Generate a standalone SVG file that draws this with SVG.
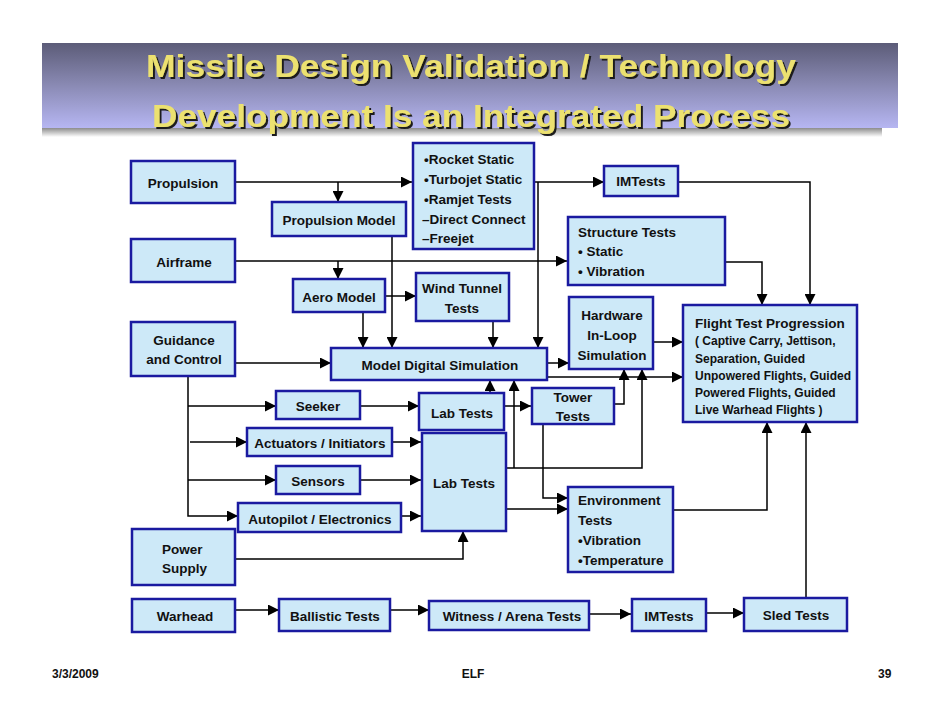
<svg xmlns="http://www.w3.org/2000/svg" width="942" height="728" viewBox="0 0 942 728">
<defs>
<linearGradient id="ban" x1="0" y1="0" x2="0" y2="1">
<stop offset="0" stop-color="#5c5c78"/>
<stop offset="0.5" stop-color="#8a8ab4"/>
<stop offset="1" stop-color="#b6b6f2"/>
</linearGradient>
<linearGradient id="shd" x1="0" y1="0" x2="0" y2="1">
<stop offset="0" stop-color="#8c8c8c"/>
<stop offset="1" stop-color="#ffffff"/>
</linearGradient>
<filter id="tshadow" x="-5%" y="-30%" width="110%" height="160%">
<feDropShadow dx="2" dy="2" stdDeviation="0.4" flood-color="#1a1a1a" flood-opacity="1"/>
</filter>
<marker id="ah" markerUnits="userSpaceOnUse" markerWidth="11" markerHeight="11" viewBox="0 0 10 10" refX="10" refY="5" orient="auto">
<path d="M0,0 L10,5 L0,10 z" fill="#000"/>
</marker>
<style>
.box{fill:#cde9f8;stroke:#1a1aa0;stroke-width:2.5}
.t{font-family:"Liberation Sans",Arial,sans-serif;font-weight:bold;font-size:13.5px;fill:#111}
.c{text-anchor:middle}
.s{font-size:12px}
.ttl{font-family:"Liberation Sans",Arial,sans-serif;font-weight:bold;font-size:31px;text-anchor:middle;fill:#ece170;filter:url(#tshadow)}
.ft{font-family:"Liberation Sans",Arial,sans-serif;font-weight:bold;font-size:12px;fill:#111}
#connectors path{fill:none;stroke:#000;stroke-width:1.5;marker-end:url(#ah)}
</style>
</defs>
<rect width="942" height="728" fill="#fff"/>
<g id="title">
<rect x="42" y="128" width="840" height="9" fill="url(#shd)"/>
<rect x="42" y="43" width="856" height="85" fill="url(#ban)"/>
<text class="ttl" x="471" y="77" textLength="650" lengthAdjust="spacingAndGlyphs">Missile Design Validation / Technology</text>
<text class="ttl" x="471" y="127" textLength="638" lengthAdjust="spacingAndGlyphs">Development Is an Integrated Process</text>
</g>
<g id="connectors">
<path d="M235,182 H412"/>
<path d="M338,182 V202"/>
<path d="M527,182 H604"/>
<path d="M538,182 V348"/>
<path d="M678,182 H810 V305"/>
<path d="M725,262 H762 V305"/>
<path d="M235,261 H567"/>
<path d="M338,261 V279"/>
<path d="M392,236 V348"/>
<path d="M363,312 V348"/>
<path d="M385,296 H416"/>
<path d="M493,321 V348"/>
<path d="M235,363 H331"/>
<path d="M547,363 H569"/>
<path d="M547,377 H683"/>
<path d="M653,342 H683"/>
<path d="M490,393 V380"/>
<path d="M506,468 H642 V369"/>
<path d="M514,468 V380"/>
<path d="M504,406 H531"/>
<path d="M614,404 H624 V369"/>
<path d="M543,424 V498 H568"/>
<path d="M506,509 H568"/>
<path d="M673,510 H767 V422"/>
<path d="M806,598 V422"/>
<path d="M188,376 V516 H238"/>
<path d="M188,406 H276"/>
<path d="M190,442 H247"/>
<path d="M188,480 H276"/>
<path d="M360,406 H419"/>
<path d="M392,442 H421"/>
<path d="M360,480 H421"/>
<path d="M401,516 H421"/>
<path d="M235,559 H463 V531"/>
<path d="M235,610 H279"/>
<path d="M390,610 H429"/>
<path d="M589,614 H631"/>
<path d="M706,613 H744"/>
</g>
<g id="propulsion"><rect class="box" x="131" y="161" width="104" height="42"/><text class="t c" x="183" y="188">Propulsion</text></g>
<g id="propulsion-model"><rect class="box" x="272" y="202" width="134" height="34"/><text class="t c" x="339" y="225">Propulsion Model</text></g>
<g id="engine-tests"><rect class="box" x="413" y="143" width="121" height="106"/>
<text class="t" x="424" y="164">•Rocket Static</text>
<text class="t" x="424" y="184">•Turbojet Static</text>
<text class="t" x="424" y="204">•Ramjet Tests</text>
<text class="t" x="422" y="224">–Direct Connect</text>
<text class="t" x="422" y="243">–Freejet</text></g>
<g id="airframe"><rect class="box" x="131" y="239" width="104" height="43"/><text class="t c" x="184" y="267">Airframe</text></g>
<g id="aero-model"><rect class="box" x="293" y="279" width="92" height="33"/><text class="t c" x="339" y="302">Aero Model</text></g>
<g id="wind-tunnel"><rect class="box" x="416" y="273" width="93" height="48"/><text class="t c" x="462" y="293">Wind Tunnel</text><text class="t c" x="462" y="313">Tests</text></g>
<g id="guidance"><rect class="box" x="131" y="322" width="104" height="54"/><text class="t c" x="184" y="345">Guidance</text><text class="t c" x="184" y="364">and Control</text></g>
<g id="model-sim"><rect class="box" x="331" y="348" width="216" height="32"/><text class="t c" x="440" y="370">Model Digital Simulation</text></g>
<g id="im-tests-top"><rect class="box" x="604" y="166" width="74" height="30"/><text class="t c" x="641" y="186">IMTests</text></g>
<g id="structure-tests"><rect class="box" x="568" y="217" width="157" height="68"/>
<text class="t" x="578" y="237">Structure Tests</text>
<text class="t" x="578" y="256">• Static</text>
<text class="t" x="578" y="276">• Vibration</text></g>
<g id="hil"><rect class="box" x="569" y="297" width="84" height="72"/>
<text class="t c" x="612" y="320">Hardware</text>
<text class="t c" x="612" y="340">In-Loop</text>
<text class="t c" x="612" y="360">Simulation</text></g>
<g id="flight-test"><rect class="box" x="683" y="305" width="174" height="117"/>
<text class="t" x="695" y="328">Flight Test Progression</text>
<text class="t s" x="695" y="345">( Captive Carry, Jettison,</text>
<text class="t s" x="695" y="363">Separation, Guided</text>
<text class="t s" x="695" y="380">Unpowered Flights, Guided</text>
<text class="t s" x="695" y="397">Powered Flights, Guided</text>
<text class="t s" x="695" y="414">Live Warhead Flights )</text></g>
<g id="tower-tests"><rect class="box" x="532" y="388" width="82" height="36"/><text class="t c" x="573" y="402">Tower</text><text class="t c" x="573" y="421">Tests</text></g>
<g id="lab-tests-1"><rect class="box" x="419" y="393" width="85" height="37"/><text class="t c" x="462" y="418">Lab Tests</text></g>
<g id="seeker"><rect class="box" x="276" y="391" width="84" height="28"/><text class="t c" x="318" y="411">Seeker</text></g>
<g id="actuators"><rect class="box" x="247" y="428" width="145" height="28"/><text class="t c" x="320" y="448">Actuators / Initiators</text></g>
<g id="sensors"><rect class="box" x="276" y="466" width="84" height="28"/><text class="t c" x="318" y="486">Sensors</text></g>
<g id="autopilot"><rect class="box" x="238" y="503" width="163" height="29"/><text class="t c" x="320" y="524">Autopilot / Electronics</text></g>
<g id="lab-tests-2"><rect class="box" x="422" y="433" width="84" height="98"/><text class="t c" x="464" y="488">Lab Tests</text></g>
<g id="environment-tests"><rect class="box" x="568" y="487" width="105" height="85"/>
<text class="t" x="578" y="505">Environment</text>
<text class="t" x="578" y="525">Tests</text>
<text class="t" x="578" y="545">•Vibration</text>
<text class="t" x="578" y="565">•Temperature</text></g>
<g id="power-supply"><rect class="box" x="132" y="529" width="103" height="56"/><text class="t" x="162" y="554">Power</text><text class="t" x="162" y="573">Supply</text></g>
<g id="warhead"><rect class="box" x="132" y="599" width="103" height="33"/><text class="t c" x="185" y="621">Warhead</text></g>
<g id="ballistic-tests"><rect class="box" x="279" y="599" width="111" height="32"/><text class="t c" x="335" y="621">Ballistic Tests</text></g>
<g id="witness-tests"><rect class="box" x="429" y="601" width="160" height="29"/><text class="t c" x="512" y="621">Witness / Arena Tests</text></g>
<g id="im-tests-bottom"><rect class="box" x="632" y="599" width="74" height="32"/><text class="t c" x="669" y="621">IMTests</text></g>
<g id="sled-tests"><rect class="box" x="744" y="598" width="103" height="33"/><text class="t c" x="796" y="620">Sled Tests</text></g>
<g id="footer">
<text class="ft" x="52" y="678">3/3/2009</text>
<text class="ft c" x="473" y="678">ELF</text>
<text class="ft" x="878" y="678">39</text>
</g>
</svg>
